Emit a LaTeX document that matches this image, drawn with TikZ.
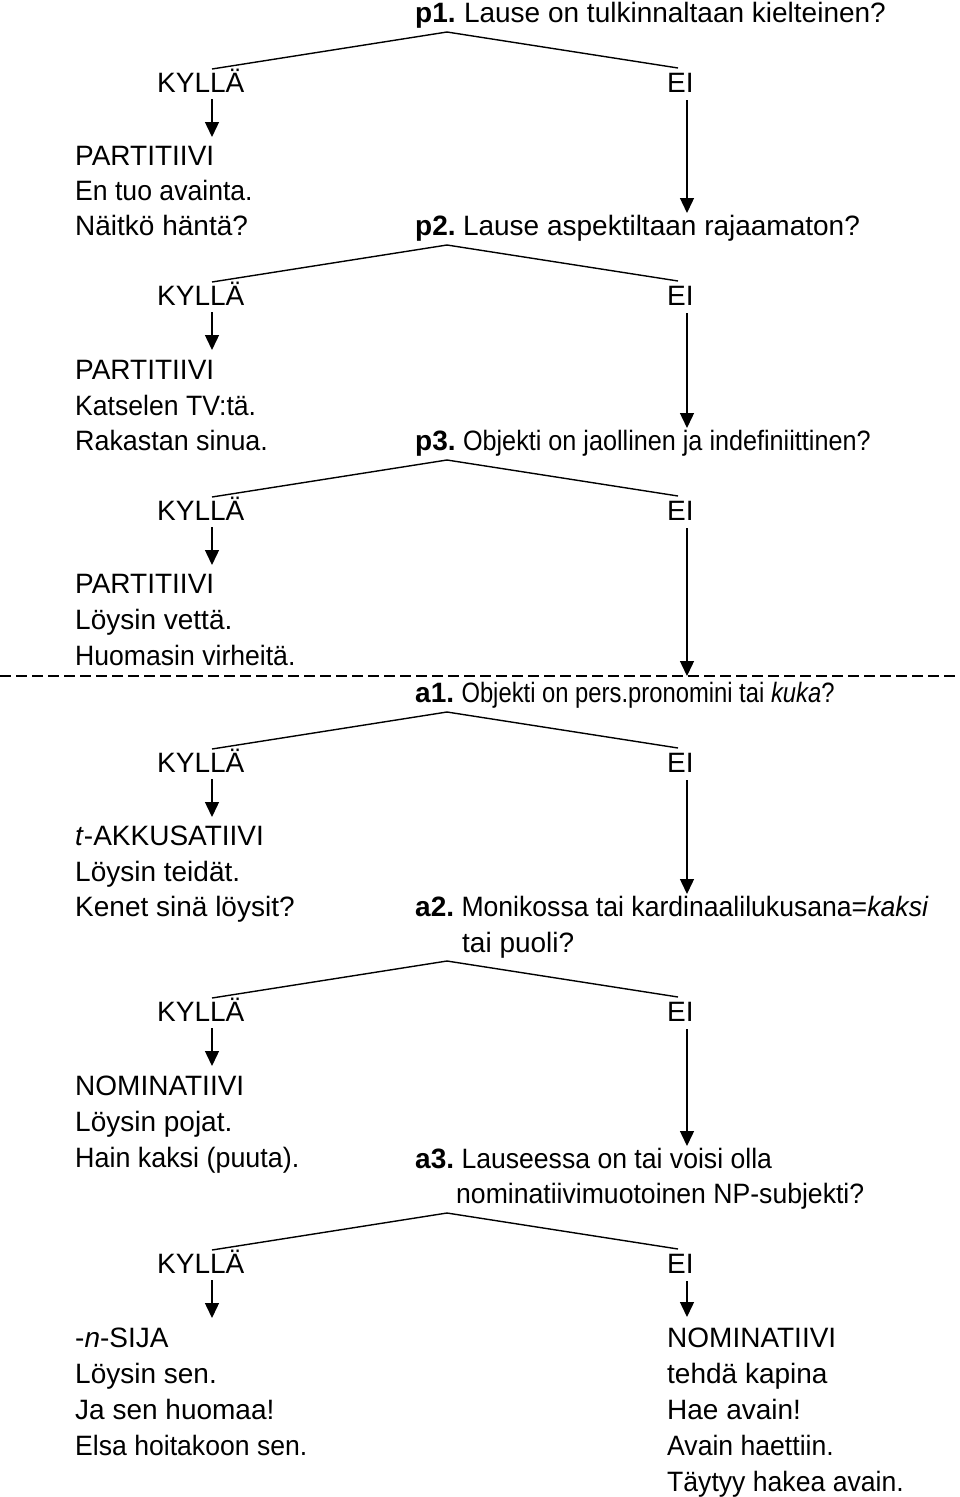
\documentclass[tikz,border=0pt]{standalone}
\usepackage{fontspec}
\setmainfont{Liberation Sans}
\newfontfamily\narrowA{Liberation Sans}[FakeStretch=0.9]
\newfontfamily\narrowB{Liberation Sans}[FakeStretch=0.85]
\newfontfamily\narrowC{Liberation Sans}[FakeStretch=0.95]
\newfontfamily\narrowD{Liberation Sans}[FakeStretch=0.96]
\usetikzlibrary{arrows.meta}
\begin{document}
\begin{tikzpicture}[x=1pt,y=-1pt,
  txt/.style={anchor=base west, inner sep=0pt, font=\fontsize{28}{36}\selectfont},
  branch/.style={line width=1.4pt},
  arr/.style={line width=1.4pt, -{Triangle[width=14pt,length=15pt]}},
  sep/.style={line width=1.3pt, dash pattern=on 11pt off 5pt}]
\useasboundingbox (0,0) rectangle (960,1497);

% structure of the six questions
\foreach \n/\A/\T in {1/32/213, 2/245/428, 3/460/676, 4/712/894, 5/961/1146, 6/1213/1317} {
  \coordinate (apex\n) at (447,\A);
  \coordinate (lend\n) at (212,\A+37);
  \coordinate (rend\n) at (678,\A+36);
  \node[txt] (yes\n) at (157,\A+60) {KYLLÄ};
  \node[txt] (no\n) at (667,\A+60) {EI};
  \coordinate (ys\n) at (212,\A+67);
  \coordinate (yt\n) at (212,\A+105);
  \coordinate (ns\n) at (687,\A+68);
  \coordinate (nt\n) at (687,\T);
  \draw[branch] (lend\n) -- (apex\n) -- (rend\n);
  \draw[arr] (ys\n) -- (yt\n);
  \draw[arr] (ns\n) -- (nt\n);
}

% questions
\node[txt] (q1) at (415,22) {\textbf{p1.}\hspace{-2pt} Lause on tulkinnaltaan kielteinen?};
\node[txt] (q2) at (415,235) {\textbf{p2.}\hspace{-3pt} Lause aspektiltaan rajaamaton?};
\node[txt] (q3) at (415,450) {\textbf{p3.}\hspace{-3pt} {\narrowA Objekti on jaollinen ja indefiniittinen?}};
\node[txt] (q4) at (415,702) {\textbf{a1.}\hspace{-3pt} {\narrowB Objekti on pers.pronomini tai \textit{kuka}?}};
\node[txt] (q5) at (415,916) {\textbf{a2.}\hspace{-3pt} {\narrowC Monikossa tai kardinaalilukusana=\textit{kaksi}}};
\node[txt] (q5b) at (462,952) {tai puoli?};
\node[txt] (q6) at (415,1168) {\textbf{a3.}\hspace{-3pt} {\narrowC Lauseessa on tai voisi olla}};
\node[txt] (q6b) at (456,1203) {{\narrowC nominatiivimuotoinen NP-subjekti?}};

% answers, block 1
\node[txt] (r1a) at (75,165) {PARTITIIVI};
\node[txt] (r1b) at (75,200) {{\narrowC En tuo avainta.}};
\node[txt] (r1c) at (75,235) {Näitkö häntä?};
% block 2
\node[txt] (r2a) at (75,379) {PARTITIIVI};
\node[txt] (r2b) at (75,415) {{\narrowC Katselen TV:tä.}};
\node[txt] (r2c) at (75,450) {{\narrowD Rakastan sinua.}};
% block 3
\node[txt] (r3a) at (75,593) {PARTITIIVI};
\node[txt] (r3b) at (75,629) {Löysin vettä.};
\node[txt] (r3c) at (75,665) {{\narrowC Huomasin virheitä.}};
% separator
\coordinate (dl) at (0,676);
\coordinate (dr) at (960,676);
\draw[sep] (dl) -- (dr);
% block 4
\node[txt] (r4a) at (75,845) {\textit{t}-AKKUSATIIVI};
\node[txt] (r4b) at (75,881) {Löysin teidät.};
\node[txt] (r4c) at (75,916) {Kenet sinä löysit?};
% block 5
\node[txt] (r5a) at (75,1095) {NOMINATIIVI};
\node[txt] (r5b) at (75,1131) {Löysin pojat.};
\node[txt] (r5c) at (75,1167) {{\narrowD Hain kaksi (puuta).}};
% block 6
\node[txt] (r6a) at (75,1347) {-\textit{n}-SIJA};
\node[txt] (r6b) at (75,1383) {Löysin sen.};
\node[txt] (r6c) at (75,1419) {Ja sen huomaa!};
\node[txt] (r6d) at (75,1455) {{\narrowC Elsa hoitakoon sen.}};
\node[txt] (s6a) at (667,1347) {NOMINATIIVI};
\node[txt] (s6b) at (667,1383) {tehdä kapina};
\node[txt] (s6c) at (667,1419) {Hae avain!};
\node[txt] (s6d) at (667,1455) {{\narrowC Avain haettiin.}};
\node[txt] (s6e) at (667,1491) {{\narrowC Täytyy hakea avain.}};
\end{tikzpicture}
\end{document}
